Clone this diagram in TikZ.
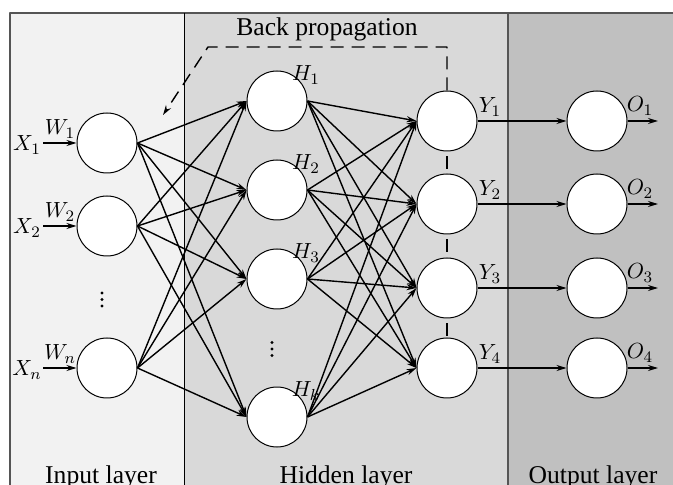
\documentclass[tikz,border=0pt]{standalone}
\usepackage{fontspec}
\setmainfont{Liberation Serif}
\usetikzlibrary{arrows.meta}
\definecolor{inbg}{HTML}{F2F2F2}
\definecolor{hidbg}{HTML}{D9D9D9}
\definecolor{outbg}{HTML}{C0C0C0}
\definecolor{rule}{HTML}{555555}
\tikzset{
  every picture/.style={line join=round, >={Stealth[length=5pt,width=3pt]}},
  neuron/.style={circle, draw, fill=white, minimum size=30pt, inner sep=0pt, line width=0.5pt},
  link/.style={->, line width=0.7pt},
  lbl/.style={font=\fontsize{11}{12}\selectfont},
  layername/.style={font=\fontsize{12.8}{14}\selectfont, anchor=base},
  backprop/.style={line width=0.7pt, dash pattern=on 6.5pt off 4pt},
  dot/.style={circle, fill, inner sep=0pt, minimum size=1.6pt},
}

\begin{document}
\begin{tikzpicture}[x=0.5pt,y=-0.5pt]
\useasboundingbox (0,0) rectangle (673,485);
\clip (0,0) rectangle (673,485);
% layer panels
\fill[inbg] (10,13) rectangle (184,495);
\fill[hidbg] (184,13) rectangle (508,495);
\fill[outbg] (508,13) rectangle (673,495);
\draw[rule, line width=0.6pt] (10,495) -- (10,13) -- (673,13);
\draw[line width=0.5pt] (184,13) -- (184,495);
\draw[rule, line width=0.9pt] (508,13) -- (508,495);

% input layer
\foreach \n/\y in {1/143,2/226,n/368}{
  \node[neuron] (x\n) at (107,\y) {};
  \coordinate (xin\n) at (43,\y);
  \draw[link] (xin\n) -- (x\n);
  \node[lbl] at (27,\y+2) {$X_\n$};
  \node[lbl] at (60,\y-14) {$W_\n$};
}
\foreach \d in {-6.5,0,6.5}
  \node[dot] at (102,299.5+\d) {};

% hidden layer
\foreach \n/\y in {1/101,2/190,3/279,k/417}{
  \node[neuron] (h\n) at (277,\y) {};
  \node[lbl] at (306,\y-26) {$H_\n$};
}
\foreach \d in {-6.5,0,6.5}
  \node[dot] at (272,349+\d) {};

% output neurons of the hidden layer and output layer
\foreach \n/\y in {1/121,2/204,3/288,4/368}{
  \node[neuron] (y\n) at (447,\y) {};
  \node[neuron] (o\n) at (597,\y) {};
  \coordinate (oout\n) at (658,\y);
  \node[lbl] at (490,\y-14) {$Y_\n$};
  \node[lbl] at (640,\y-15) {$O_\n$};
  \draw[link] (y\n) -- (o\n);
  \draw[link] (o\n) -- (oout\n);
}

% full connections
\foreach \i in {1,2,n}
  \foreach \j in {1,2,3,k}
    \draw[link] (x\i.east) -- (h\j.west);
\foreach \i in {1,2,3,k}
  \foreach \j in {1,...,4}
    \draw[link] (h\i.east) -- (y\j.west);

% back propagation
\coordinate (bpturn) at (208,47);
\coordinate (bptip) at (163,115);
\draw[backprop,->] (y1.north) |- (bpturn) -- (bptip);
\foreach \i/\j in {1/2,2/3,3/4}
  \draw[backprop, dash phase=8pt] (y\i.south) -- (y\j.north);
\node[layername] at (327,36) {Back propagation};

% layer names
\node[layername] at (101,483) {Input layer};
\node[layername] at (346,483) {Hidden layer};
\node[layername] at (593,483) {Output layer};
\end{tikzpicture}
\end{document}
